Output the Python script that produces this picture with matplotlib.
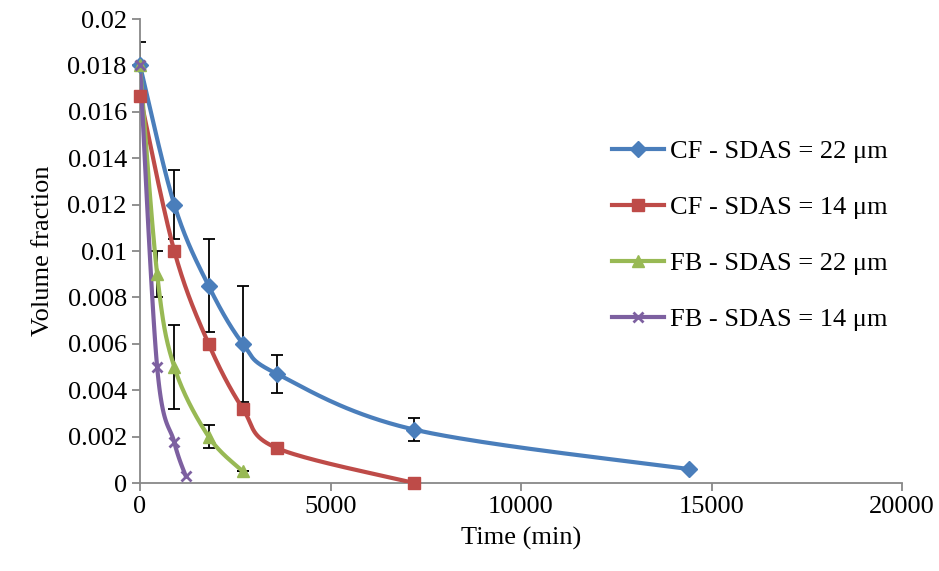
import numpy as np
import matplotlib
matplotlib.use("Agg")
import matplotlib.pyplot as plt

plt.rcParams['font.family'] = ['Liberation Serif', 'DejaVu Serif']

# data
cf22_t = [0, 900, 1800, 2700, 3600, 7200, 14400]
cf22_v = [0.018, 0.012, 0.0085, 0.006, 0.0047, 0.0023, 0.0006]
cf22_err = [0.001, 0.0015, 0.002, 0.0025, 0.0008, 0.0005, 0.00005]

cf14_t = [0, 900, 1800, 2700, 3600, 7200]
cf14_v = [0.0167, 0.010, 0.006, 0.0032, 0.0015, 0.0]

fb22_t = [0, 450, 900, 1800, 2700]
fb22_v = [0.018, 0.009, 0.005, 0.002, 0.0005]
fb22_err = [0.0, 0.001, 0.0018, 0.0005, 0.0]

fb14_t = [0, 450, 900, 1200]
fb14_v = [0.018, 0.005, 0.00175, 0.0003]

labels = ["CF - SDAS = 22 μm", "CF - SDAS = 14 μm",
          "FB - SDAS = 22 μm", "FB - SDAS = 14 μm"]
colors = ["#4A7EBB", "#BE4B48", "#98B954", "#7D60A0"]
markers = ["D", "s", "^", "x"]


def smooth(x, y, n=40):
    # Catmull-Rom style bezier, like Excel's smoothed lines
    x = np.asarray(x, float)
    y = np.asarray(y, float)
    px, py = [], []
    for i in range(len(x) - 1):
        x0, y0 = (x[i - 1], y[i - 1]) if i > 0 else (x[i], y[i])
        x3, y3 = (x[i + 2], y[i + 2]) if i + 2 < len(x) else (x[i + 1], y[i + 1])
        c1x = x[i] + (x[i + 1] - x0) / 6
        c1y = y[i] + (y[i + 1] - y0) / 6
        c2x = x[i + 1] - (x3 - x[i]) / 6
        c2y = y[i + 1] - (y3 - y[i]) / 6
        t = np.linspace(0, 1, n)
        b0, b1, b2, b3 = (1 - t) ** 3, 3 * t * (1 - t) ** 2, 3 * t ** 2 * (1 - t), t ** 3
        px.extend(b0 * x[i] + b1 * c1x + b2 * c2x + b3 * x[i + 1])
        py.extend(b0 * y[i] + b1 * c1y + b2 * c2y + b3 * y[i + 1])
    return px, py


fig = plt.figure(figsize=(9.39, 5.71), dpi=100)
ax = fig.add_axes([140 / 939, 88 / 571, 762 / 939, 464 / 571])

series = [(cf22_t, cf22_v, cf22_err), (cf14_t, cf14_v, None),
          (fb22_t, fb22_v, fb22_err), (fb14_t, fb14_v, None)]

handles = []
for (t, v, err), lab, c, m in zip(series, labels, colors, markers):
    if err is not None:
        ax.errorbar(t, v, yerr=err, fmt='none', ecolor='black',
                    elinewidth=1.3, capsize=4, capthick=1.3, zorder=2)
    sx, sy = smooth(t, v)
    ax.plot(sx, sy, color=c, lw=3, zorder=3, solid_capstyle='round')
    ms = 8 if m != "x" else 7
    ax.plot(t, v, ls='none', marker=m, color=c, ms=ms, mew=2 if m == "x" else 1,
            zorder=4, clip_on=False)
    h, = ax.plot([], [], color=c, lw=3, marker=m, ms=ms,
                 mew=2 if m == "x" else 1)
    handles.append(h)

ax.set_xlim(0, 20000)
ax.set_ylim(0, 0.02)
ax.set_xticks([0, 5000, 10000, 15000, 20000])
ax.set_yticks(np.arange(0, 0.0201, 0.002))
ax.set_yticklabels(["0", "0.002", "0.004", "0.006", "0.008", "0.01", "0.012",
                    "0.014", "0.016", "0.018", "0.02"])
for s in ["top", "right"]:
    ax.spines[s].set_visible(False)
for s in ["left", "bottom"]:
    ax.spines[s].set_color("#888888")
    ax.spines[s].set_linewidth(1.3)
ax.tick_params(colors="#888888", labelcolor="black", labelsize=19,
               length=6, width=1.3)
ax.set_xlabel("Time (min)", fontsize=19, labelpad=6)
ax.set_ylabel("Volume fraction", fontsize=19, labelpad=10)

ax.legend(handles, labels, loc="upper left", bbox_to_anchor=(0.619, 0.74),
          frameon=False, fontsize=19, labelspacing=1.23, handlelength=2.0,
          handletextpad=0.2, borderpad=0, borderaxespad=0)

fig.savefig("out.png", dpi=100)
